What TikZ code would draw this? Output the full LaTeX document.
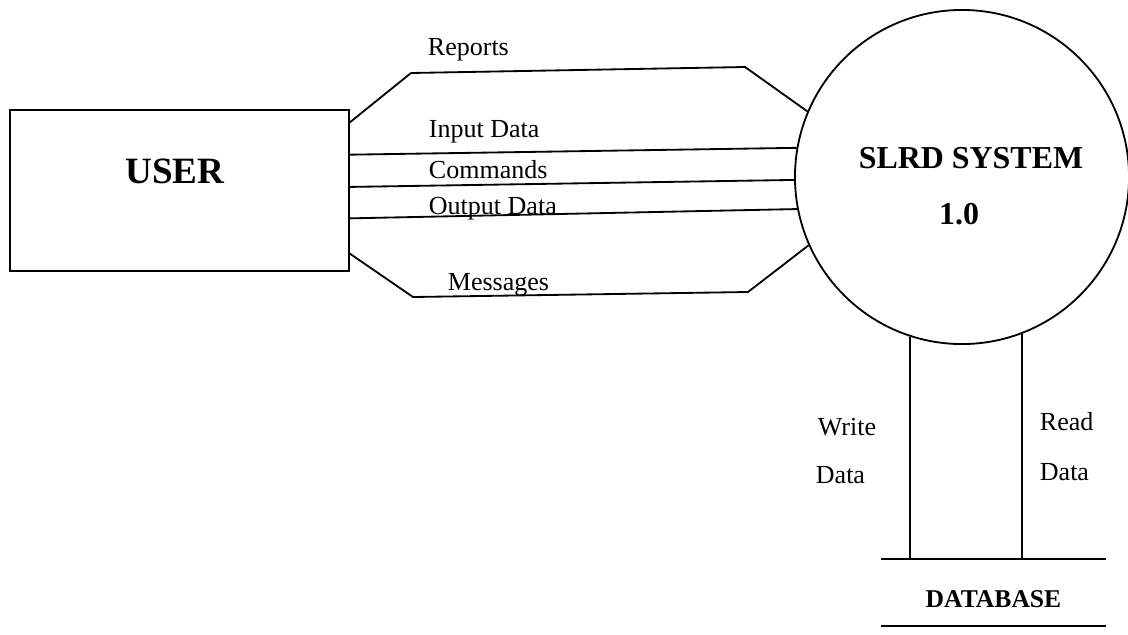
\documentclass[tikz,border=0pt]{standalone}
\usepackage{fontspec}
\setmainfont{Liberation Serif}
\usetikzlibrary{calc,positioning}

\begin{document}
\begin{tikzpicture}[x=0.025cm, y=-0.025cm, line width=1.3pt,
  entity/.style={draw, rectangle, minimum width=8.475cm, minimum height=4.025cm, inner sep=0pt},
  process/.style={draw, circle, minimum size=8.35cm, inner sep=0pt},
  store/.style={minimum width=5.575cm, minimum height=1.625cm, inner sep=0pt, text height=22pt, text depth=0pt, font=\fontsize{18.2}{20}\selectfont\bfseries},
  flowlbl/.style={anchor=base west, inner sep=0pt, font=\fontsize{18.5}{20}\selectfont},
  bigtxt/.style={anchor=base, inner sep=0pt, font=\fontsize{22.7}{26}\selectfont\bfseries}]
  \useasboundingbox (0,0) rectangle (1128,634);
  % External entity
  \node[entity] (user) at (179.5,190.5) {};
  \node[bigtxt, font=\fontsize{26.4}{30}\selectfont\bfseries] (usertxt) at (175,183) {USER};
  % Process 1.0
  \node[process] (sys) at (962,177) {};
  \node[bigtxt] (systxt) at (971,168) {SLRD SYSTEM};
  \node[bigtxt] (sysnum) at (959,224) {1.0};
  % Data store
  \node[store] (db) at (993.5,592.5) {DATABASE};
  \draw (db.north west) -- (db.north east) (db.south west) -- (db.south east);
  % Flows user <-> system
  \draw ($(user.north east)!0.081!(user.south east)$) -- (411,73) -- (745,67) -- (sys.157);
  \node[flowlbl] (lreports) at (427,55) {Reports};
  \draw ($(user.north east)!0.28!(user.south east)$) -- (sys.170);
  \node[flowlbl] (linput) at (428,137) {Input Data};
  \draw ($(user.north east)!0.478!(user.south east)$) -- (sys.181);
  \node[flowlbl] (lcmd) at (428,178) {Commands};
  \draw ($(user.north east)!0.671!(user.south east)$) -- (sys.191.5);
  \node[flowlbl] (loutput) at (428,214) {Output Data};
  \draw ($(user.north east)!0.888!(user.south east)$) -- (413,297) -- (748,292) -- (sys.204);
  \node[flowlbl] (lmsg) at (447,290) {Messages};
  % Flows system <-> database
  \draw (sys.252) -- (sys.252 |- db.north);
  \node[flowlbl] (lwrite) at (817,435) {Write};
  \node[flowlbl] (lwdata) at (815,483) {Data};
  \draw (sys.291) -- (sys.291 |- db.north);
  \node[flowlbl] (lread) at (1039,430) {Read};
  \node[flowlbl] (lrdata) at (1039,480) {Data};
\end{tikzpicture}
\end{document}
